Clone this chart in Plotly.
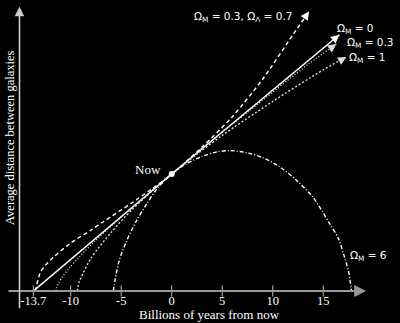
import plotly.graph_objects as go

# ---------------- data ----------------
tick_vals = [-13.7, -10, -5, 0, 5, 10, 15]
tick_text = ["-13.7", "-10", "-5", "0", "5", "10", "15"]

t_lcdm = [-13.5, -13.0, -12.5, -11.7, -10.0, -8.0, -6.8, -4.0, -2.0, 0.0, 3.0, 6.0, 9.0, 12.0, 13.6]
a_lcdm = [0.0, 0.16, 0.22, 0.29, 0.41, 0.52, 0.59, 0.75, 0.87, 1.0, 1.23, 1.49, 1.81, 2.19, 2.39]

t_empty = [-13.7, 0.0, 16.6]
a_empty = [0.0, 1.0, 2.19]

t_open = [-11.45, -11.38, -11.2, -10.82, -10.19, -9.17, -7.68, -5.55, -3.27, 0.0, 3.28, 7.83, 13.54, 16.3]
a_open = [0.0, 0.03, 0.07, 0.12, 0.19, 0.29, 0.42, 0.59, 0.76, 1.0, 1.24, 1.55, 1.94, 2.11]

t_eds = [-9.35, -9.2, -9.0, -8.0, -6.0, -4.0, -2.0, 0.0, 2.5, 5.0, 10.0, 15.0, 17.3]
a_eds = [0.0, 0.07, 0.11, 0.28, 0.50, 0.69, 0.85, 1.0, 1.17, 1.33, 1.62, 1.89, 2.0]

t_closed = [-5.78, -5.6, -5.2, -4.5, -3.5, -2.5, -1.5, 0.0, 1.5, 3.0, 4.5, 5.8, 7.5, 9.0,
            10.7, 12.3, 14.0, 15.6, 16.5, 17.0, 17.5, 17.8]
a_closed = [0.0, 0.10, 0.26, 0.42, 0.60, 0.74, 0.87, 1.0, 1.09, 1.15, 1.19, 1.2, 1.18, 1.14,
            1.06, 0.95, 0.80, 0.58, 0.45, 0.32, 0.17, 0.0]

now_t = [0.0]
now_a = [1.0]

lbl_lcdm = "Ω<sub>M</sub> = 0.3, Ω<sub>Λ</sub> = 0.7"
lbl_empty = "Ω<sub>M</sub> = 0"
lbl_open = "Ω<sub>M</sub> = 0.3"
lbl_eds = "Ω<sub>M</sub> = 1"
lbl_closed = "Ω<sub>M</sub> = 6"

# ---------------- figure ----------------
W, H = 400, 323
XR = [-17.0, 22.6]
YR = [0.0, 2.487]

fig = go.Figure()

def curve(t, a, dash, color="white", width=1.4):
    fig.add_trace(go.Scatter(x=t, y=a, mode="lines",
                             line=dict(color=color, width=width, dash=dash, shape="spline", smoothing=0.8),
                             cliponaxis=False, hoverinfo="skip", showlegend=False))

curve(t_lcdm, a_lcdm, "4px,3px")
curve(t_empty, a_empty, "solid", width=1.6)
curve(t_open, a_open, "1px,2px", color="#dddddd")
curve(t_eds, a_eds, "2px,2px", color="#dddddd")
curve(t_closed, a_closed, "4px,2px,1px,2px")

# tick marks on the time axis
fig.add_trace(go.Scatter(x=tick_vals, y=[0] * len(tick_vals), mode="markers",
                         marker=dict(symbol="line-ns", size=8, line=dict(color="#bbbbbb", width=1)),
                         cliponaxis=False, hoverinfo="skip", showlegend=False))

# "Now" point
fig.add_trace(go.Scatter(x=now_t, y=now_a, mode="markers",
                         marker=dict(color="white", size=6),
                         cliponaxis=False, hoverinfo="skip", showlegend=False))

ann = []
# axes with arrowheads
ann.append(dict(x=19.25, y=0, ax=-16.3, ay=0, xref="x", yref="y", axref="x", ayref="y",
                text="", showarrow=True, arrowhead=2, arrowsize=1.2, arrowwidth=2,
                arrowcolor="#999999", standoff=0))
ann.append(dict(x=-15.07, y=2.43, ax=-15.07, ay=-0.16, xref="x", yref="y", axref="x", ayref="y",
                text="", showarrow=True, arrowhead=2, arrowsize=1.2, arrowwidth=1.6,
                arrowcolor="#cccccc", standoff=0))

# arrowheads at the ends of the expanding curves
for t, a, col in [(t_lcdm, a_lcdm, "white"), (t_empty, a_empty, "white"),
                  (t_open, a_open, "#dddddd"), (t_eds, a_eds, "#dddddd")]:
    dt = t[-1] - t[-2]
    da = a[-1] - a[-2]
    ann.append(dict(x=t[-1], y=a[-1], ax=t[-1] - 0.5 * dt / abs(dt), ay=a[-1] - 0.5 * da / abs(dt),
                    xref="x", yref="y", axref="x", ayref="y", text="", showarrow=True,
                    arrowhead=2, arrowsize=1.3, arrowwidth=1.3, arrowcolor=col, standoff=0))

lf = dict(family="DejaVu Sans", size=10.5, color="white")
ann.append(dict(x=7.1, y=2.34, text=lbl_lcdm, showarrow=False, xref="x", yref="y", font=lf,
                xanchor="center", yanchor="middle"))
ann.append(dict(x=16.2, y=2.24, text=lbl_empty, showarrow=False, xref="x", yref="y", font=lf,
                xanchor="left", yanchor="middle"))
ann.append(dict(x=17.2, y=2.12, text=lbl_open, showarrow=False, xref="x", yref="y", font=lf,
                xanchor="left", yanchor="middle"))
ann.append(dict(x=17.4, y=1.99, text=lbl_eds, showarrow=False, xref="x", yref="y", font=lf,
                xanchor="left", yanchor="middle"))
ann.append(dict(x=17.5, y=0.30, text=lbl_closed, showarrow=False, xref="x", yref="y", font=lf,
                xanchor="left", yanchor="middle"))

sf = dict(family="Liberation Serif", size=13, color="white")
ann.append(dict(x=-0.9, y=1.035, text="Now", showarrow=False, xref="x", yref="y", font=sf,
                xanchor="right", yanchor="middle"))
ann.append(dict(x=209 / W, y=-(314 - 291) / 291, text="Billions of years from now", showarrow=False,
                xref="paper", yref="paper", font=sf, xanchor="center", yanchor="middle"))
ann.append(dict(x=10 / W, y=(291 - 138) / 291, text="Average distance between galaxies", showarrow=False,
                xref="paper", yref="paper", font=dict(family="Liberation Serif", size=12.5, color="white"),
                textangle=-90, xanchor="center", yanchor="middle"))

fig.update_layout(
    width=W, height=H,
    margin=dict(l=0, r=0, t=0, b=32, pad=0),
    paper_bgcolor="black", plot_bgcolor="black",
    showlegend=False,
    annotations=ann,
    xaxis=dict(range=XR, showgrid=False, zeroline=False, showline=False,
               tickvals=tick_vals, ticktext=tick_text, ticks="", ticklen=0,
               tickfont=dict(family="Liberation Serif", size=12.5, color="white"), fixedrange=True),
    yaxis=dict(range=YR, showgrid=False, zeroline=False, showline=False,
               showticklabels=False, ticks="", fixedrange=True),
)

fig.write_html("out.html")
